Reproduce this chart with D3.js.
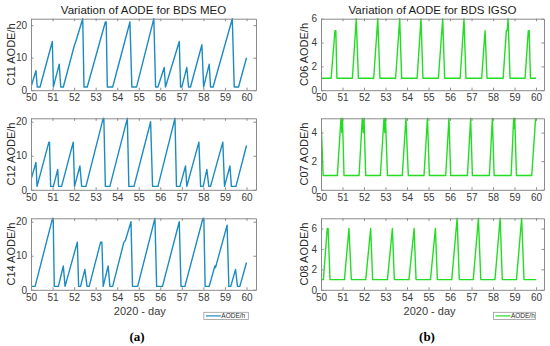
<!DOCTYPE html>
<html>
<head>
<meta charset="utf-8">
<script src="https://cdn.jsdelivr.net/npm/d3@7"></script>
<style>
  body { margin: 0; background: #fff; }
  svg { font-family: "Liberation Sans", Arial, sans-serif; }
</style>
</head>
<body>
<script>
// day ticks on every x axis
const dayTicks = [50, 51, 52, 53, 54, 55, 56, 57, 58, 59, 60];

// AODE vertices [day, hours]
const c11 = [[50,1],[50.23,6],[50.29,1],[50.42,1],[50.99,15],[51.04,1],[51.31,8],[51.38,1],[51.5,1],[52.02,14],[52.08,15],[52.40,22],[52.46,1],[52.61,1],[53.45,21],[53.49,21],[53.54,1],[53.79,1],[54.59,21],[54.68,1],[54.9,1],[55.70,22],[55.78,1],[55.89,1],[56.18,7],[56.24,1],[56.88,15],[56.94,1],[57.0,1],[57.23,7],[57.31,1],[57.40,1],[57.93,14],[58.01,1],[58.27,8],[58.33,1],[58.45,1],[59.34,22],[59.43,1],[59.63,1],[60.0,10]];
const c12 = [[50,3],[50.23,8],[50.28,1],[50.83,14],[50.86,14],[50.91,1],[51.04,1],[51.24,6],[51.28,1],[51.42,1],[51.96,14],[52.02,1],[52.27,7],[52.35,1],[52.55,1],[53.35,21],[53.38,21],[53.45,1],[53.66,1],[54.47,21],[54.54,1],[54.78,1],[55.55,20],[55.64,1],[55.89,1],[56.68,21],[56.75,1],[56.91,1],[57.17,7],[57.23,1],[57.79,14],[57.87,1],[57.99,1],[58.16,6],[58.25,1],[58.33,1],[58.9,14],[58.98,1],[59.23,7],[59.30,1],[59.51,1],[60,13]];
const c14 = [[50,1],[50.19,1],[51.0,21],[51.03,21],[51.08,1],[51.27,1],[51.5,7],[51.58,1],[52.15,14],[52.21,1],[52.3,1],[52.5,6],[52.6,1],[52.7,1],[53.23,14],[53.29,14],[53.35,1],[53.58,7],[53.66,1],[53.79,1],[54.31,14],[54.38,14.5],[54.64,20],[54.71,1],[54.95,1],[55.75,21],[55.83,1],[56.1,1],[56.88,20],[56.96,1],[57.14,1],[57.98,21],[58.02,21],[58.08,1],[58.27,1],[58.53,7],[58.56,6.5],[59.1,19],[59.18,1],[59.27,1],[59.49,6],[59.58,1],[59.69,1],[60,8]];
const c06 = [[50,1],[50.47,1],[50.65,5],[50.69,5],[50.74,1],[51.46,1],[51.64,6],[51.74,1],[52.45,1],[52.64,6],[52.74,1],[53.47,1],[53.66,6],[53.75,1],[54.47,1],[54.65,6],[54.74,1],[55.46,1],[55.66,6],[55.75,1],[56.47,1],[56.65,6],[56.74,1],[57.47,1],[57.63,5],[57.72,1],[58.47,1],[58.62,5],[58.66,5],[58.70,6],[58.79,1],[59.49,1],[59.64,5],[59.68,5],[59.74,1],[60,1]];
const c07 = [[50,5],[50.1,1],[50.76,1],[50.93,5],[50.97,4],[51.0,5],[51.07,1],[51.77,1],[51.92,5],[51.97,4],[52.0,5],[52.08,1],[52.76,1],[52.93,5],[52.97,4],[53.0,5],[53.09,1],[53.78,1],[53.95,5],[54.06,1],[54.79,1],[54.95,5],[55.04,1],[55.8,1],[55.95,5],[56.03,1],[56.81,1],[56.96,5],[57.04,1],[57.83,1],[57.97,5],[58.05,1],[58.84,1],[58.96,5],[58.99,4.3],[59.01,5],[59.09,1],[59.8,1],[59.98,5]];
const c08 = [[50,1],[50.11,1],[50.29,6],[50.33,6],[50.42,1],[51.09,1],[51.3,6],[51.41,1],[52.08,1],[52.31,6],[52.4,1],[53.09,1],[53.32,6],[53.41,1],[54.09,1],[54.33,6],[54.42,1],[55.09,1],[55.32,6],[55.41,1],[56.08,1],[56.33,7],[56.43,1],[57.08,1],[57.32,7],[57.43,1],[58.09,1],[58.33,7],[58.43,1],[59.09,1],[59.33,7],[59.44,1],[60,1]];

// y limits and ticks per satellite
const yMax = { C11: 22, C12: 21, C14: 21, C06: 6, C07: 5, C08: 7 };
const yTicks = {
    C11: [0, 10, 20], C12: [0, 10, 20], C14: [0, 10, 20],
    C06: [0, 2, 4, 6], C07: [0, 2, 4], C08: [0, 2, 4, 6]
};

const W = 550, H = 346;
const blue = "#1b8bc1", green = "#22dd22";
const tops = [18.7, 118.3, 218.3];
const ph = 71.5;

const columns = [
    { title: "Variation of AODE for BDS MEO", x0: 31, x1: 256, xmax: 60.44, color: blue, labOff: 16,
      sats: [["C11", c11], ["C12", c12], ["C14", c14]], tag: "(a)", tagX: 137 },
    { title: "Variation of AODE for BDS IGSO", x0: 321, x1: 544, xmax: 60.37, color: green, labOff: 13,
      sats: [["C06", c06], ["C07", c07], ["C08", c08]], tag: "(b)", tagX: 427 }
];

const svg = d3.select("body").append("svg")
    .attr("width", W)
    .attr("height", H);

columns.forEach(function(col) {
    const x = d3.scaleLinear().domain([50, col.xmax]).range([col.x0, col.x1]);

    col.sats.forEach(function(s, i) {
        const name = s[0], pts = s[1];
        const top = tops[i], bot = top + ph;
        const y = d3.scaleLinear().domain([0, yMax[name]]).range([bot, top]);

        const g = svg.append("g");

        // series line, clipped to the box
        const clipId = "clip-" + name;
        svg.append("clipPath").attr("id", clipId)
            .append("rect")
            .attr("x", col.x0).attr("y", top - 1)
            .attr("width", col.x1 - col.x0).attr("height", ph + 1);

        g.append("path")
            .datum(pts)
            .attr("clip-path", "url(#" + clipId + ")")
            .attr("fill", "none")
            .attr("stroke", col.color)
            .attr("stroke-width", 1.4)
            .attr("stroke-linejoin", "round")
            .attr("d", d3.line().x(d => x(d[0])).y(d => y(d[1])));

        // axes, Matlab style: ticks inside, box around
        const xAx = g.append("g")
            .attr("transform", "translate(0," + bot + ")")
            .call(d3.axisBottom(x).tickValues(dayTicks).tickFormat(d3.format("d"))
                .tickSizeInner(-2.5).tickSizeOuter(0).tickPadding(4));
        const xTop = g.append("g")
            .attr("transform", "translate(0," + top + ")")
            .call(d3.axisTop(x).tickValues(dayTicks).tickSizeInner(-2.5).tickSizeOuter(0).tickFormat(""));
        const yAx = g.append("g")
            .attr("transform", "translate(" + col.x0 + ",0)")
            .call(d3.axisLeft(y).tickValues(yTicks[name]).tickFormat(d3.format("d"))
                .tickSizeInner(-2.5).tickSizeOuter(0).tickPadding(4));
        const yRight = g.append("g")
            .attr("transform", "translate(" + col.x1 + ",0)")
            .call(d3.axisRight(y).tickValues(yTicks[name]).tickSizeInner(-2.5).tickSizeOuter(0).tickFormat(""));

        [xAx, xTop, yAx, yRight].forEach(function(a) {
            a.select(".domain").attr("stroke", "#8a8a8a");
            a.selectAll(".tick line").attr("stroke", "#8a8a8a");
            a.selectAll("text")
                .attr("fill", "#3a3a3a")
                .style("font-size", "10px")
                .style("font-family", "Liberation Sans, Arial, sans-serif");
        });

        // y label
        g.append("text")
            .attr("transform", "translate(" + (col.x0 - col.labOff) + "," + (top + ph / 2) + ") rotate(-90)")
            .attr("text-anchor", "middle")
            .attr("fill", "#2a2a2a")
            .style("font-size", "11px")
            .text(name + " AODE/h");

        if (i === 0) {
            g.append("text")
                .attr("x", (col.x0 + col.x1) / 2)
                .attr("y", 14)
                .attr("text-anchor", "middle")
                .attr("fill", "#1a1a1a")
                .style("font-size", "11.5px")
                .text(col.title);
        }
    });

    // x label
    svg.append("text")
        .attr("x", x(55.05))
        .attr("y", 315)
        .attr("text-anchor", "middle")
        .attr("fill", "#3a3a3a")
        .style("font-size", "11px")
        .text("2020 - day");

    // legend
    const lx = x(58.02), ly = 312.3;
    const lg = svg.append("g");
    lg.append("rect")
        .attr("x", lx).attr("y", ly)
        .attr("width", col === columns[0] ? 44.5 : 42).attr("height", 7.2)
        .attr("fill", "#fff").attr("stroke", "#9a9a9a").attr("stroke-width", 0.8);
    lg.append("line")
        .attr("x1", lx + 2).attr("x2", lx + 17)
        .attr("y1", ly + 3.6).attr("y2", ly + 3.6)
        .attr("stroke", col.color).attr("stroke-width", 1.2);
    lg.append("text")
        .attr("x", lx + 17.5).attr("y", ly + 6)
        .attr("fill", "#2a2a2a")
        .style("font-size", "6.5px")
        .text("AODE/h");

    // panel tag
    svg.append("text")
        .attr("x", col.tagX)
        .attr("y", 341)
        .attr("text-anchor", "middle")
        .attr("fill", "#000")
        .style("font-family", "Liberation Serif, Times New Roman, serif")
        .style("font-weight", "bold")
        .style("font-size", "13px")
        .text(col.tag);
});
</script>
</body>
</html>
